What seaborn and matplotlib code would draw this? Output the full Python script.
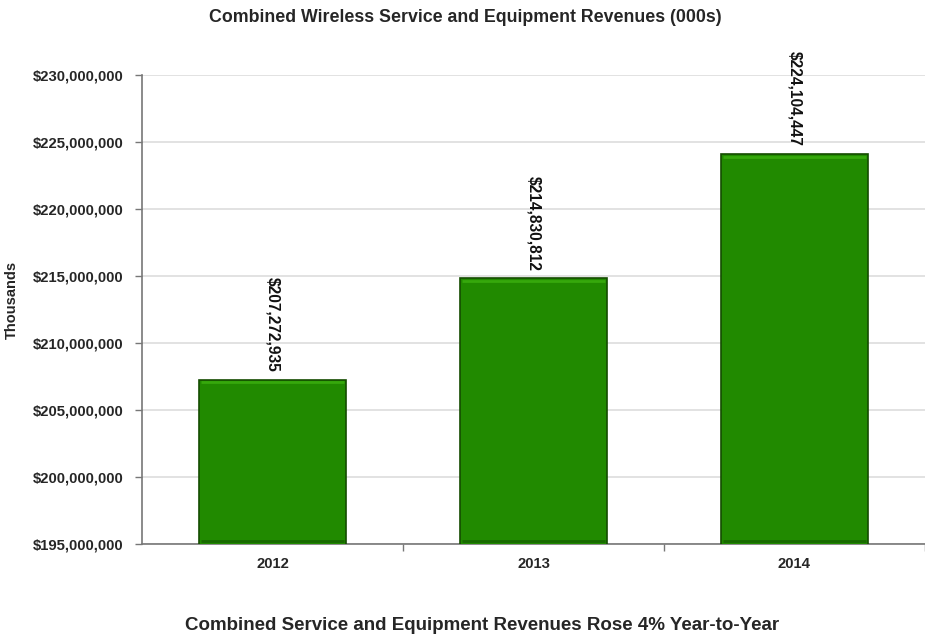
import matplotlib
matplotlib.use("Agg")
import matplotlib.pyplot as plt
import matplotlib.ticker as mticker
import seaborn as sns
import pandas as pd

years = ["2012", "2013", "2014"]
revenues = [207272935, 214830812, 224104447]
y_ticks = [195000000, 200000000, 205000000, 210000000, 215000000,
           220000000, 225000000, 230000000]

title = "Combined Wireless Service and Equipment Revenues (000s)"
caption = "Combined Service and Equipment Revenues Rose 4% Year-to-Year"
y_label = "Thousands"

sns.set_style("white")
plt.rcParams["font.family"] = ["Liberation Sans", "DejaVu Sans"]

df = pd.DataFrame({"year": years, "revenue": revenues})

fig = plt.figure(figsize=(9.25, 6.39), dpi=100)
ax = fig.add_axes([142 / 925, 1 - 544 / 639, (925 - 142) / 925, (544 - 75) / 639])

sns.barplot(data=df, x="year", y="revenue", ax=ax, color="#218A00",
            saturation=1, width=0.565, edgecolor="#144C00", linewidth=1.2,
            zorder=3)

ax.set_ylim(y_ticks[0], y_ticks[-1])
ax.set_xlim(-0.5, len(years) - 0.5)
ax.set_yticks(y_ticks)
ax.yaxis.set_major_formatter(mticker.FuncFormatter(lambda v, p: f"${v:,.0f}"))
ax.grid(axis="y", color="#DDDDDD", linewidth=1.2, zorder=0)

# Lighter bevel along each bar's top edge, darker shade along the base
for patch in ax.patches:
    x0 = patch.get_x()
    w = patch.get_width()
    top = patch.get_y() + patch.get_height()
    ax.plot([x0 + w * 0.015, x0 + w * 0.985], [top - 0.22e6, top - 0.22e6],
            color="#36A80C", linewidth=2.0, zorder=4, solid_capstyle="butt")
    ax.plot([x0 + w * 0.015, x0 + w * 0.985],
            [y_ticks[0] + 0.2e6, y_ticks[0] + 0.2e6],
            color="#186A00", linewidth=2.0, zorder=4, solid_capstyle="butt")

# Value labels standing vertically above the bars
for i, v in enumerate(revenues):
    ax.annotate(f"${v:,.0f}", xy=(i, v), xytext=(0, 5.5),
                textcoords="offset points", rotation=270, ha="center",
                va="bottom", fontsize=11.2, fontweight="bold", color="#111111")

for side in ["top", "right"]:
    ax.spines[side].set_visible(False)
ax.spines["left"].set_color("#777777")
ax.spines["bottom"].set_color("#777777")
ax.spines["left"].set_linewidth(1.2)
ax.spines["bottom"].set_linewidth(1.2)

ax.tick_params(axis="y", which="major", length=5, width=1, color="#777777",
               direction="out", left=True, labelsize=10.7, pad=8)
ax.set_xticks(range(len(years)))
ax.set_xticklabels(years)
ax.tick_params(axis="x", which="major", length=0, labelsize=10.7, pad=9)
ax.set_xticks([0.5, 1.5, 2.5], minor=True)
ax.tick_params(axis="x", which="minor", length=5, width=1, color="#777777",
               direction="out", bottom=True)
for lbl in ax.get_xticklabels() + ax.get_yticklabels():
    lbl.set_fontweight("bold")

ax.set_xlabel("")
ax.set_ylabel("")
fig.text(12 / 925, 1 - 300 / 639, y_label, rotation=90, ha="center",
         va="center", fontsize=10.5, fontweight="bold")
fig.text(465 / 925, 1 - 17 / 639, title, ha="center", va="center",
         fontsize=12.8, fontweight="bold")
fig.text(482 / 925, 1 - 625 / 639, caption, ha="center", va="center",
         fontsize=13.5, fontweight="bold")

fig.savefig("out.png", dpi=100, facecolor="white")
